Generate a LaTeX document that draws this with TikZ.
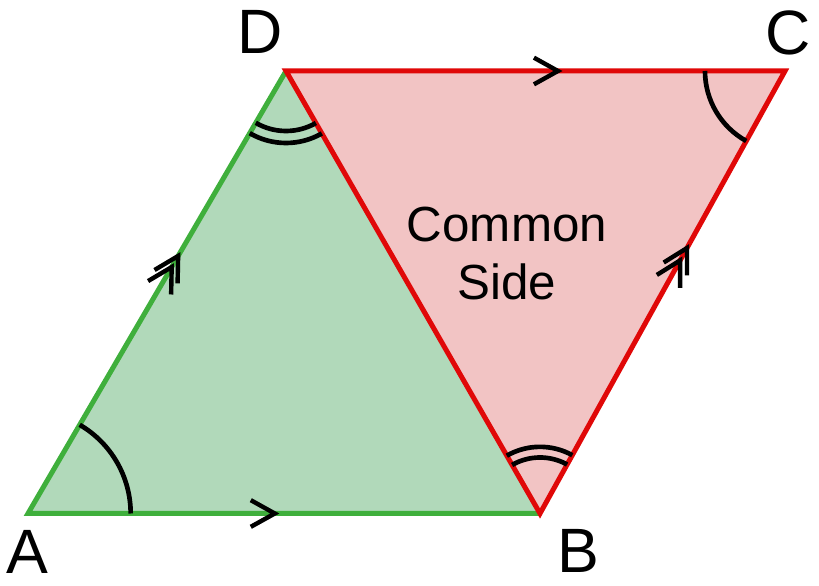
\documentclass[tikz,border=0pt]{standalone}
\usepackage{fontspec}
\setmainfont{Liberation Sans}
\usepackage{tikz}
\usetikzlibrary{calc}
\usetikzlibrary{angles}
\usetikzlibrary{decorations.markings}
\definecolor{leafgreen}{RGB}{63, 175, 60}
\definecolor{mintfill}{RGB}{177, 217, 186}
\definecolor{signalred}{RGB}{224, 8, 8}
\definecolor{blushfill}{RGB}{242, 196, 196}
\newcommand{\chevron}{\draw[tick] (-18pt, 10pt) -- (0pt, 0pt) -- (-18pt, -10pt);}
\tikzset{
  tick/.style={black, line width=3.3pt},
  arcmark/.style={draw, black, line width=3.5pt},
  side/.style={line width=3.75pt, line join=miter},
  lbl/.style={inner sep=0pt, font=\fontsize{47}{56}\selectfont},
  chev/.style={postaction={decorate},
               decoration={markings, mark=at position #1 with {\chevron}}},
  dchev/.style 2 args={postaction={decorate},
               decoration={markings, mark=at position #1 with {\chevron},
                                     mark=at position #2 with {\chevron}}}
}

\begin{document}
\begin{tikzpicture}[x=0.75pt, y=0.75pt]
            \useasboundingbox (0, 0) rectangle (819, 586);
            % Corners
            \coordinate (A) at ( 28.00,  72.50);
            \coordinate (B) at (540.00,  72.50);
            \coordinate (C) at (785.00, 515.00);
            \coordinate (D) at (286.00, 515.00);
            % Two triangles
            \fill[mintfill]                                   (A) -- (B) -- (D) -- cycle;
            \fill[blushfill]                                  (B) -- (C) -- (D) -- cycle;
            \draw[leafgreen, side]                            (B) -- (A) -- (D);
            \draw[signalred, side]                            (D) -- (B) -- (C) -- cycle;
            % Parallel marks
            \path[chev=0.482]                                 (A) -- (B);
            \path[chev=0.545]                                 (D) -- (C);
            \path[dchev={0.557}{0.582}]                       (A) -- (D);
            \path[dchev={0.572}{0.600}]                       (B) -- (C);
            % Equal angles
            \pic[arcmark, angle radius=77pt]                  {angle = B--A--D};
            \pic[arcmark, angle radius=60pt]                  {angle = D--C--B};
            \pic[arcmark, angle radius=45pt]                  {angle = A--D--B};
            \pic[arcmark, angle radius=54pt]                  {angle = A--D--B};
            \pic[arcmark, angle radius=42pt]                  {angle = C--B--D};
            \pic[arcmark, angle radius=50pt]                  {angle = C--B--D};
            % Labels
            \node[lbl] (labelA) at ( 27.00,  34.00) {A};
            \node[lbl] (labelB) at (578.00,  35.00) {B};
            \node[lbl] (labelC) at (788.00, 553.00) {C};
            \node[lbl] (labelD) at (260.00, 554.00) {D};
            \node[inner sep=0pt, align=center, font=\fontsize{37}{43}\selectfont]
                 (common) at (507.00, 332.50) {Common\\Side};
        \end{tikzpicture}
\end{document}
